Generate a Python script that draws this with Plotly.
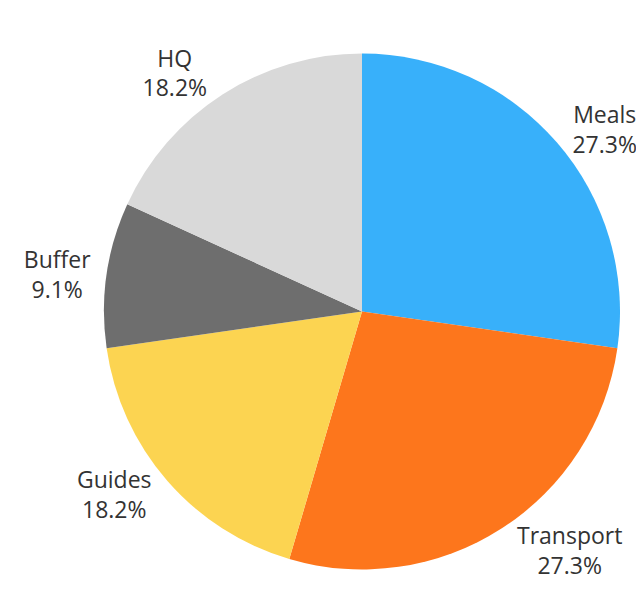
import plotly.graph_objects as go

categories = ["Meals", "Transport", "Guides", "Buffer", "HQ"]
values = [3, 3, 2, 1, 2]
colors = ["#38b0fa", "#fd761c", "#fcd451", "#6e6e6e", "#d9d9d9"]

fig = go.Figure(go.Pie(
    labels=categories,
    values=values,
    sort=False,
    direction="clockwise",
    rotation=0,
    marker=dict(colors=colors, line=dict(width=0)),
    textposition="outside",
    texttemplate="%{label}<br>%{percent:.1%}",
    textfont=dict(size=23, color="#333333", family="Open Sans"),
    showlegend=False,
    hoverinfo="label+percent",
))

fig.update_layout(
    width=644, height=615,
    margin=dict(l=96, r=32, t=0, b=40),
    paper_bgcolor="white",
    plot_bgcolor="white",
)

fig.write_html("out.html")
